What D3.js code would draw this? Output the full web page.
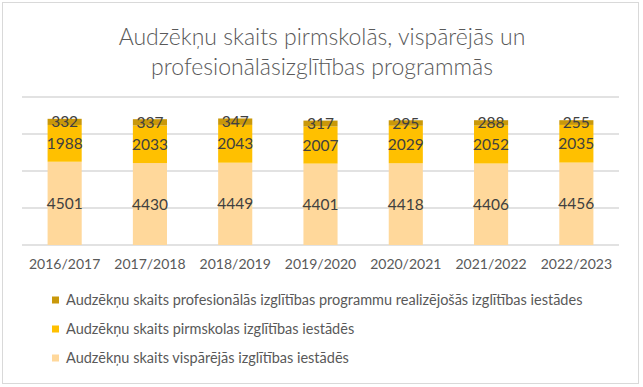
<!DOCTYPE html>
<html><head><meta charset="utf-8">
<script src="https://cdn.jsdelivr.net/npm/d3@7"></script>
<style>body{margin:0;background:#fff}text{font-family:Lato,"Open Sans",sans-serif}</style>
</head><body><svg id="c" width="643" height="387"></svg>
<script>
const categories = ["2016/2017","2017/2018","2018/2019","2019/2020","2020/2021","2021/2022","2022/2023"];
const general = [4501,4430,4449,4401,4418,4406,4456];
const preschool = [1988,2033,2043,2007,2029,2052,2035];
const vocational = [332,337,347,317,295,288,255];
const seriesNames = ["Audzēkņu skaits vispārējās izglītības iestādēs","Audzēkņu skaits pirmskolas izglītības iestādēs","Audzēkņu skaits profesionālās izglītības programmu realizējošās izglītības iestādes"];
const colors = ["#FFD89B","#FFC000","#C9980A"];
const yTicks = [0,2000,4000,6000,8000];
const title = ["Audzēkņu skaits pirmskolās, vispārējās un","profesionālāsizglītības programmās"];

const svg = d3.select("#c");
svg.append("rect").attr("x",2.5).attr("y",2.5).attr("width",636).attr("height",381).attr("fill","#fff").attr("stroke","#d9d9d9");

const x = d3.scaleBand().domain(categories).range([22,619]).paddingInner(0.6).paddingOuter(0.3);
const y = d3.scaleLinear().domain([0,8000]).range([245,97]);

svg.append("g").selectAll("line").data(yTicks).join("line")
  .attr("x1",22).attr("x2",619).attr("y1",d=>y(d)).attr("y2",d=>y(d))
  .attr("stroke","#d9d9d9").attr("stroke-width",1.3);

const rows = categories.map((c,i)=>({cat:c,general:general[i],preschool:preschool[i],vocational:vocational[i]}));
const stack = d3.stack().keys(["general","preschool","vocational"])(rows);

const g = svg.append("g");
stack.forEach((s,si)=>{
  g.selectAll(null).data(s).join("rect")
    .attr("x",d=>x(d.data.cat)).attr("width",x.bandwidth())
    .attr("y",d=>y(d[1])).attr("height",d=>y(d[0])-y(d[1]))
    .attr("fill",colors[si]);
  g.selectAll(null).data(s).join("text")
    .attr("x",d=>x(d.data.cat)+x.bandwidth()/2).attr("y",d=>(y(d[0])+y(d[1]))/2)
    .attr("dy","0.36em").attr("text-anchor","middle").attr("font-size",15.5).attr("fill","#404040")
    .text(d=>d[1]-d[0]);
});

const xAxis = svg.append("g").attr("transform","translate(0,245)").call(d3.axisBottom(x).tickSize(0).tickPadding(14));
xAxis.select(".domain").remove();
xAxis.selectAll("text").attr("font-size",14).attr("fill","#595959").attr("font-family","Lato,sans-serif");

svg.append("g").selectAll("text").data(title).join("text")
  .attr("x",322).attr("y",(d,i)=>45+i*30).attr("text-anchor","middle")
  .attr("font-size",23).attr("font-weight",300).attr("fill","#595959").text(d=>d);

const leg = svg.append("g");
const legOrder = [2,1,0];
legOrder.forEach((si,i)=>{
  const yy = 300 + i*29;
  leg.append("rect").attr("x",52).attr("y",yy-3.5).attr("width",7).attr("height",7).attr("fill",colors[si]);
  leg.append("text").attr("x",66).attr("y",yy).attr("dy","0.35em").attr("font-size",14.5).attr("fill","#595959").text(seriesNames[si]);
});
</script></body></html>
